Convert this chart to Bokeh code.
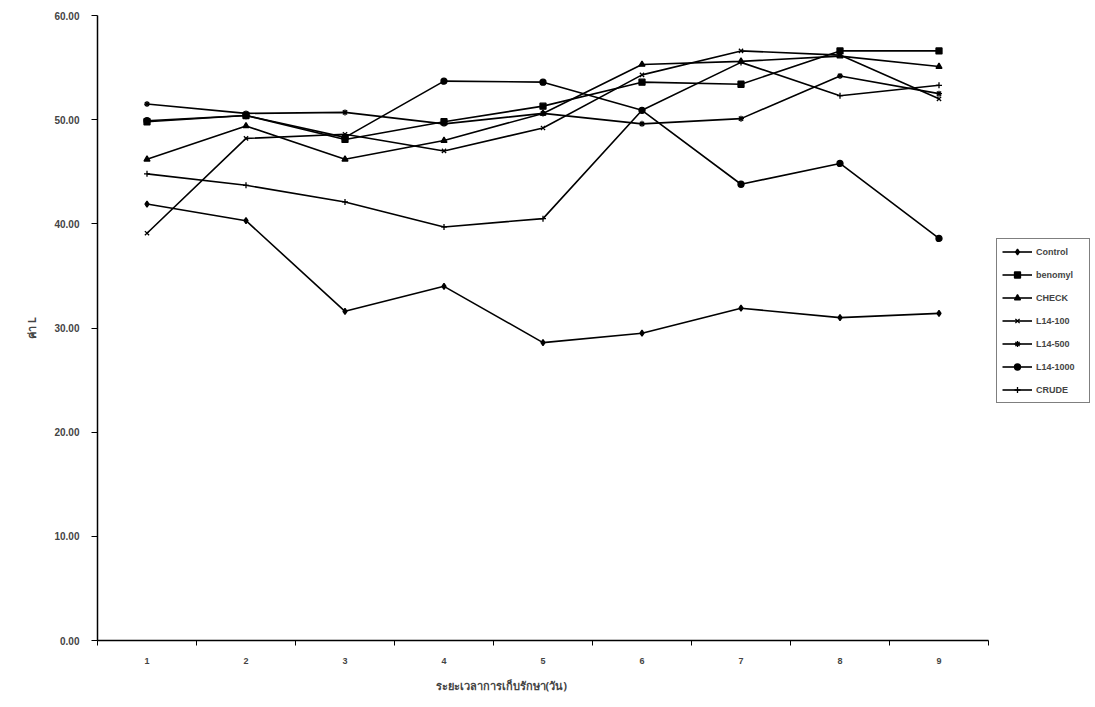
from bokeh.plotting import figure
from bokeh.models import FixedTicker, NumeralTickFormatter, Legend, LegendItem, Range1d, Title
from bokeh.embed import file_html
from bokeh.resources import INLINE

days = [1, 2, 3, 4, 5, 6, 7, 8, 9]
y_ticks = [0, 10, 20, 30, 40, 50, 60]

control = [41.9, 40.3, 31.6, 34.0, 28.6, 29.5, 31.9, 31.0, 31.4]
benomyl = [49.8, 50.4, 48.1, 49.8, 51.3, 53.6, 53.4, 56.6, 56.6]
check = [46.2, 49.4, 46.2, 48.0, 50.6, 55.3, 55.6, 56.1, 55.1]
l14_100 = [39.1, 48.2, 48.6, 47.0, 49.2, 54.3, 56.6, 56.2, 52.0]
l14_500 = [51.5, 50.6, 50.7, 49.6, 50.6, 49.6, 50.1, 54.2, 52.5]
l14_1000 = [49.9, 50.4, 48.3, 53.7, 53.6, 50.9, 43.8, 45.8, 38.6]
crude = [44.8, 43.7, 42.1, 39.7, 40.5, 50.9, 55.5, 52.3, 53.3]

series_names = ["Control", "benomyl", "CHECK", "L14-100", "L14-500", "L14-1000", "CRUDE"]
series_values = [control, benomyl, check, l14_100, l14_500, l14_1000, crude]
markers = ["diamond", "square", "triangle", "x", "asterisk", "circle", "cross"]

x_title = "ระยะเวลาการเก็บรักษา(วัน)"
y_title = "ค่า L"

# frame spans 97..1093 px; category axis occupies 0.5..9.5 (97..988 px), the rest holds the legend
p = figure(width=1095, height=707, x_range=Range1d(0.5, 10.5606), y_range=Range1d(0, 60),
           output_backend="svg", toolbar_location=None,
           min_border_left=97, min_border_right=2, min_border_top=15, min_border_bottom=67)
p.outline_line_color = None
p.xgrid.grid_line_color = None
p.ygrid.grid_line_color = None
p.background_fill_color = "white"
p.border_fill_color = "white"

items = []
for name, vals, mk in zip(series_names, series_values, markers):
    rl = p.line(days, vals, line_color="black", line_width=1.6)
    rm = p.scatter(days, vals, marker=mk, size=6, line_color="black", fill_color="black", line_width=1.3)
    items.append(LegendItem(label=name, renderers=[rl, rm]))

legend = Legend(items=items, location=(899, 237), border_line_color="black", border_line_width=1.2,
                background_fill_color="white", label_text_font="Liberation Sans",
                label_text_font_style="bold", label_text_font_size="9px",
                glyph_width=30, glyph_height=15, label_height=15, label_width=48,
                spacing=8, padding=5, margin=0, label_standoff=4)
p.add_layout(legend, "center")

xa = p.xaxis[0]
xa.bounds = (0.5, 9.5)
xa.ticker = FixedTicker(ticks=days, minor_ticks=[0.5, 1.5, 2.5, 3.5, 4.5, 5.5, 6.5, 7.5, 8.5, 9.5])
xa.major_tick_out = 0
xa.major_tick_in = 0
xa.minor_tick_out = 5
xa.minor_tick_in = 0
xa.axis_line_color = "black"
xa.axis_line_width = 1.5
xa.minor_tick_line_color = "black"
xa.major_label_standoff = 12
xa.major_label_text_font = "Liberation Sans"
xa.major_label_text_font_style = "bold"
xa.major_label_text_font_size = "9px"

p.add_layout(Title(text=x_title, align="left", offset=338, standoff=18,
                   text_font="Noto Sans", text_font_style="bold", text_font_size="11px"), "below")

ya = p.yaxis[0]
ya.ticker = FixedTicker(ticks=y_ticks)
ya.formatter = NumeralTickFormatter(format="0.00")
ya.major_tick_out = 6
ya.major_tick_in = 0
ya.minor_tick_out = 0
ya.axis_line_color = "black"
ya.axis_line_width = 1.5
ya.major_tick_line_color = "black"
ya.major_label_standoff = 12
ya.major_label_text_font = "Liberation Sans"
ya.major_label_text_font_style = "bold"
ya.major_label_text_font_size = "10px"
ya.axis_label = y_title
ya.axis_label_text_font = "Noto Sans"
ya.axis_label_text_font_style = "bold"
ya.axis_label_text_font_size = "11px"
ya.axis_label_standoff = 12

open("out.html", "w").write(file_html(p, INLINE))
